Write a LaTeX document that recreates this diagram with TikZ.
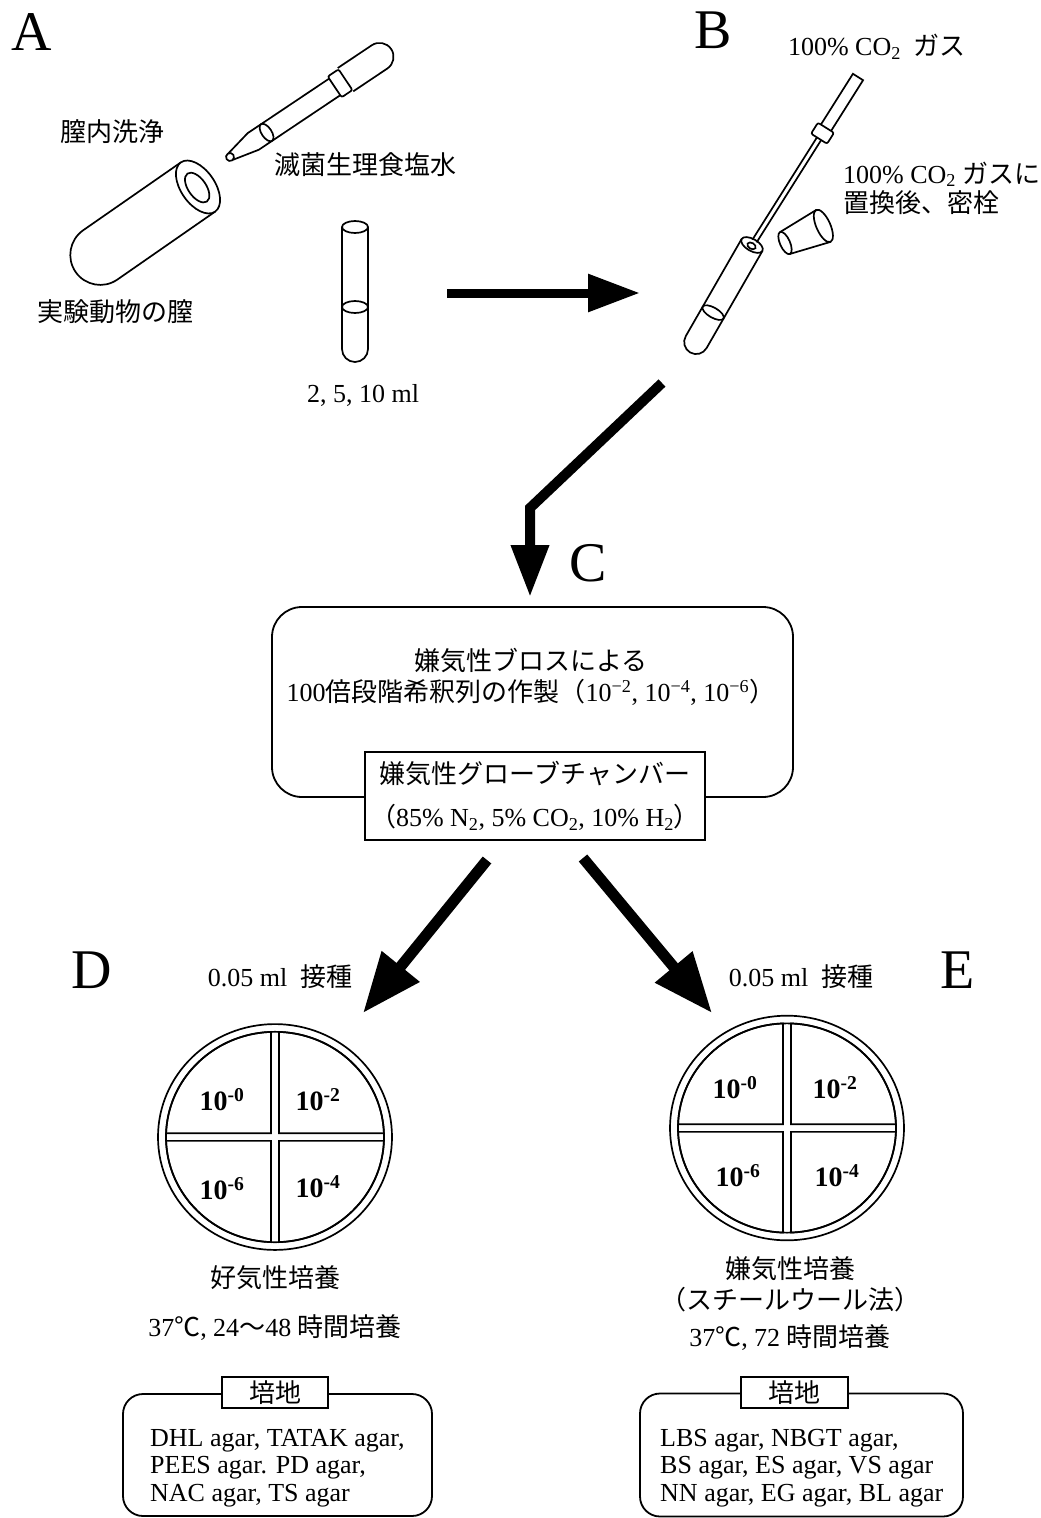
\documentclass[tikz,border=0pt]{standalone}
\usepackage{fontspec}
\setmainfont{Liberation Serif}
\newfontfamily\jp{Noto Sans CJK JP}
\usetikzlibrary{arrows.meta,positioning}

\tikzset{
  txt/.style={inner sep=0pt, align=center, font=\fontsize{26}{31}\selectfont},
  jtxt/.style={txt, font=\jp\fontsize{26}{31}\selectfont},
  panel/.style={inner sep=0pt, font=\fontsize{56}{60}\selectfont},
  dil/.style={inner sep=0pt, font=\bfseries\fontsize{28}{30}\selectfont},
  outline/.style={line width=1.7pt},
  flow/.style={line width=9pt, -{Triangle[length=52pt,width=36pt]}},
  split/.style={line width=11pt, -{Triangle[length=60pt,width=46pt]}},
  roundbox/.style={draw, line width=1.8pt, rounded corners=#1},
  tagbox/.style={draw, line width=1.8pt, fill=white, inner sep=0pt},
}

% petri dish split into four sectors: centre, yscale
\newcommand{\petri}[2]{%
  \begin{scope}[shift={#1}, yscale=#2]
    \draw[outline] (0,0) circle[radius=117];
    \draw[outline] (0,0) circle[radius=109];
    \foreach \a in {0,90,180,270}
      \draw[outline, rotate=\a] (4,4) -- (108.93,4)
        arc[start angle=2.1, end angle=87.9, radius=109] -- cycle;
  \end{scope}}

\begin{document}
\begin{tikzpicture}[x=1pt, y=-1pt]
\useasboundingbox (0,0) rectangle (1041,1518);

% ---- A: washing ----
\node[panel] (A) at (32,32) {A};
\node[jtxt] (wash) at (112,132) {膣内洗浄};
\node[jtxt] (saline) at (365,165) {滅菌生理食塩水};
\node[jtxt] (vagina) at (115,312) {実験動物の膣};
\node[txt] (vol) at (363,395) {2, 5, 10 ml};

% vagina as an open cylinder
\begin{scope}[shift={(198,187)}, rotate=214.8, outline]
  \draw (0,30) -- (119,30) arc[start angle=90, end angle=-90, radius=30] -- (0,-30);
  \draw[fill=white] (0,0) ellipse[x radius=17, y radius=30];
  \draw (1,0) ellipse[x radius=9, y radius=17];
\end{scope}

% pipette
\begin{scope}[shift={(230,157)}, rotate=33.8, outline]
  \draw (0,0) circle[radius=4];
  \draw (1,4) -- (28,10) -- (126,10);
  \draw (1,-4) -- (28,-10) -- (126,-10);
  \draw[rounded corners=2pt] (126,-12.5) rectangle (139,12.5);
  \draw (139,14) -- (180,14) arc[start angle=90, end angle=-90, radius=14] -- (139,-14);
  \draw (44,0) ellipse[x radius=5, y radius=10];
\end{scope}

% saline tube
\begin{scope}[outline]
  \draw (342,227) -- (342,349) arc[start angle=180, end angle=0, radius=13] -- (368,227);
  \draw (355,227) ellipse[x radius=13, y radius=6];
  \draw (355,307) ellipse[x radius=13, y radius=6];
\end{scope}

\coordinate (ab-from) at (447,293);
\coordinate (ab-to) at (640,293);
\draw[flow] (ab-from) -- (ab-to);

% ---- B: gassing ----
\node[panel] (B) at (713,30) {B};
\node[txt] (gas) at (877,47) {100\% CO\textsubscript{2}\ \ {\jp ガス}};
\node[txt, align=left, anchor=west, font=\fontsize{26}{29}\selectfont] (seal) at (843,188)
  {100\% CO\textsubscript{2} {\jp ガスに}\\{\jp 置換後、密栓}};

% gas needle
\begin{scope}[shift={(858,77)}, rotate=237.75, outline]
  \draw (0,-6) rectangle (61,6);
  \draw[rounded corners=2pt, fill=white] (60,-9.5) rectangle (73,9.5);
  \draw (73,-2.5) -- (194,-2.5);
  \draw (73,2.5) -- (194,2.5);
\end{scope}

% culture tube
\begin{scope}[shift={(752,245)}, rotate=240.1, outline]
  \draw (0,12) -- (112,12) arc[start angle=90, end angle=-90, radius=12] -- (0,-12);
  \draw (0,0) ellipse[x radius=6, y radius=12];
  \draw (1,0) ellipse[x radius=3, y radius=4.5];
  \draw (78,0) ellipse[x radius=5, y radius=12];
\end{scope}

% stopper
\begin{scope}[shift={(785,243)}, rotate=24, outline]
  \draw (0,12) -- (42,17.5);
  \draw (0,-12) -- (42,-17.5);
  \draw (0,0) ellipse[x radius=5, y radius=12];
  \draw (42,0) ellipse[x radius=7, y radius=17.5];
\end{scope}

\coordinate (bc-from) at (662,383);
\coordinate (bc-bend) at (530,508);
\coordinate (bc-to) at (530,597);
\draw[flow, line width=10pt] (bc-from) -- (bc-bend) -- (bc-to);

% ---- C: dilution ----
\node[panel] (C) at (588,563) {C};
\node[roundbox=30pt, minimum width=521pt, minimum height=190pt] (broth) at (532.5,702) {};
\node[txt] (dilute) at (531,677)
  {{\jp 嫌気性ブロスによる}\\100{\jp 倍段階希釈列の作製（}10\textsuperscript{−2}, 10\textsuperscript{−4}, 10\textsuperscript{−6}{\jp ）}};
\node[tagbox, minimum width=340pt, minimum height=88pt, align=center,
      font=\fontsize{26}{31}\selectfont] (chamber) at (535,796)
  {{\jp 嫌気性グローブチャンバー}\\[12pt]{\jp （}85\% N\textsubscript{2}, 5\% CO\textsubscript{2}, 10\% H\textsubscript{2}{\jp ）}};

\coordinate (cd-from) at (487,860);
\coordinate (cd-to) at (363,1013);
\coordinate (ce-from) at (583,858);
\coordinate (ce-to) at (712,1013);
\draw[split] (cd-from) -- (cd-to);
\draw[split] (ce-from) -- (ce-to);

% ---- D: aerobic ----
\node[panel] (D) at (92,970) {D};
\node[txt] (inocD) at (280,977) {0.05 ml\ \ {\jp 接種}};
\petri{(275,1137)}{0.965}
\node[dil] (d0) at (222,1100) {10\textsuperscript{-0}};
\node[dil] (d2) at (318,1100) {10\textsuperscript{-2}};
\node[dil] (d6) at (222,1189) {10\textsuperscript{-6}};
\node[dil] (d4) at (318,1187) {10\textsuperscript{-4}};
\node[jtxt] (aero) at (275,1278) {好気性培養};
\node[txt] (tempD) at (275,1328) {37{\jp ℃}, 24{\jp 〜}48\ {\jp 時間培養}};

\node[roundbox=20pt, minimum width=309pt, minimum height=122pt] (mediaD) at (277.5,1455) {};
\node[tagbox, minimum width=106pt, minimum height=31pt, font=\jp\fontsize{26}{31}\selectfont]
  (tagD) at (275,1392.5) {培地};
\node[txt, align=left, anchor=north west, font=\fontsize{26}{27.5}\selectfont] (listD) at (150,1429)
  {DHL agar, TATAK agar,\\PEES agar. PD agar,\\NAC agar, TS agar};

% ---- E: anaerobic ----
\node[panel] (E) at (958,970) {E};
\node[txt] (inocE) at (801,977) {0.05 ml\ \ {\jp 接種}};
\petri{(787,1128)}{0.96}
\node[dil] (e0) at (735,1088) {10\textsuperscript{-0}};
\node[dil] (e2) at (835,1088) {10\textsuperscript{-2}};
\node[dil] (e6) at (738,1176) {10\textsuperscript{-6}};
\node[dil] (e4) at (837,1176) {10\textsuperscript{-4}};
\node[jtxt] (anaero) at (790,1284) {嫌気性培養\\（スチールウール法）};
\node[txt] (tempE) at (790,1338) {37{\jp ℃}, 72\ {\jp 時間培養}};

\node[roundbox=20pt, minimum width=323pt, minimum height=123pt] (mediaE) at (801.5,1455) {};
\node[tagbox, minimum width=107pt, minimum height=31pt, font=\jp\fontsize{26}{31}\selectfont]
  (tagE) at (794.5,1392.5) {培地};
\node[txt, align=left, anchor=north west, font=\fontsize{26}{27.5}\selectfont] (listE) at (660,1429)
  {LBS agar, NBGT agar,\\BS agar, ES agar, VS agar\\NN agar, EG agar, BL agar};

\end{tikzpicture}
\end{document}
